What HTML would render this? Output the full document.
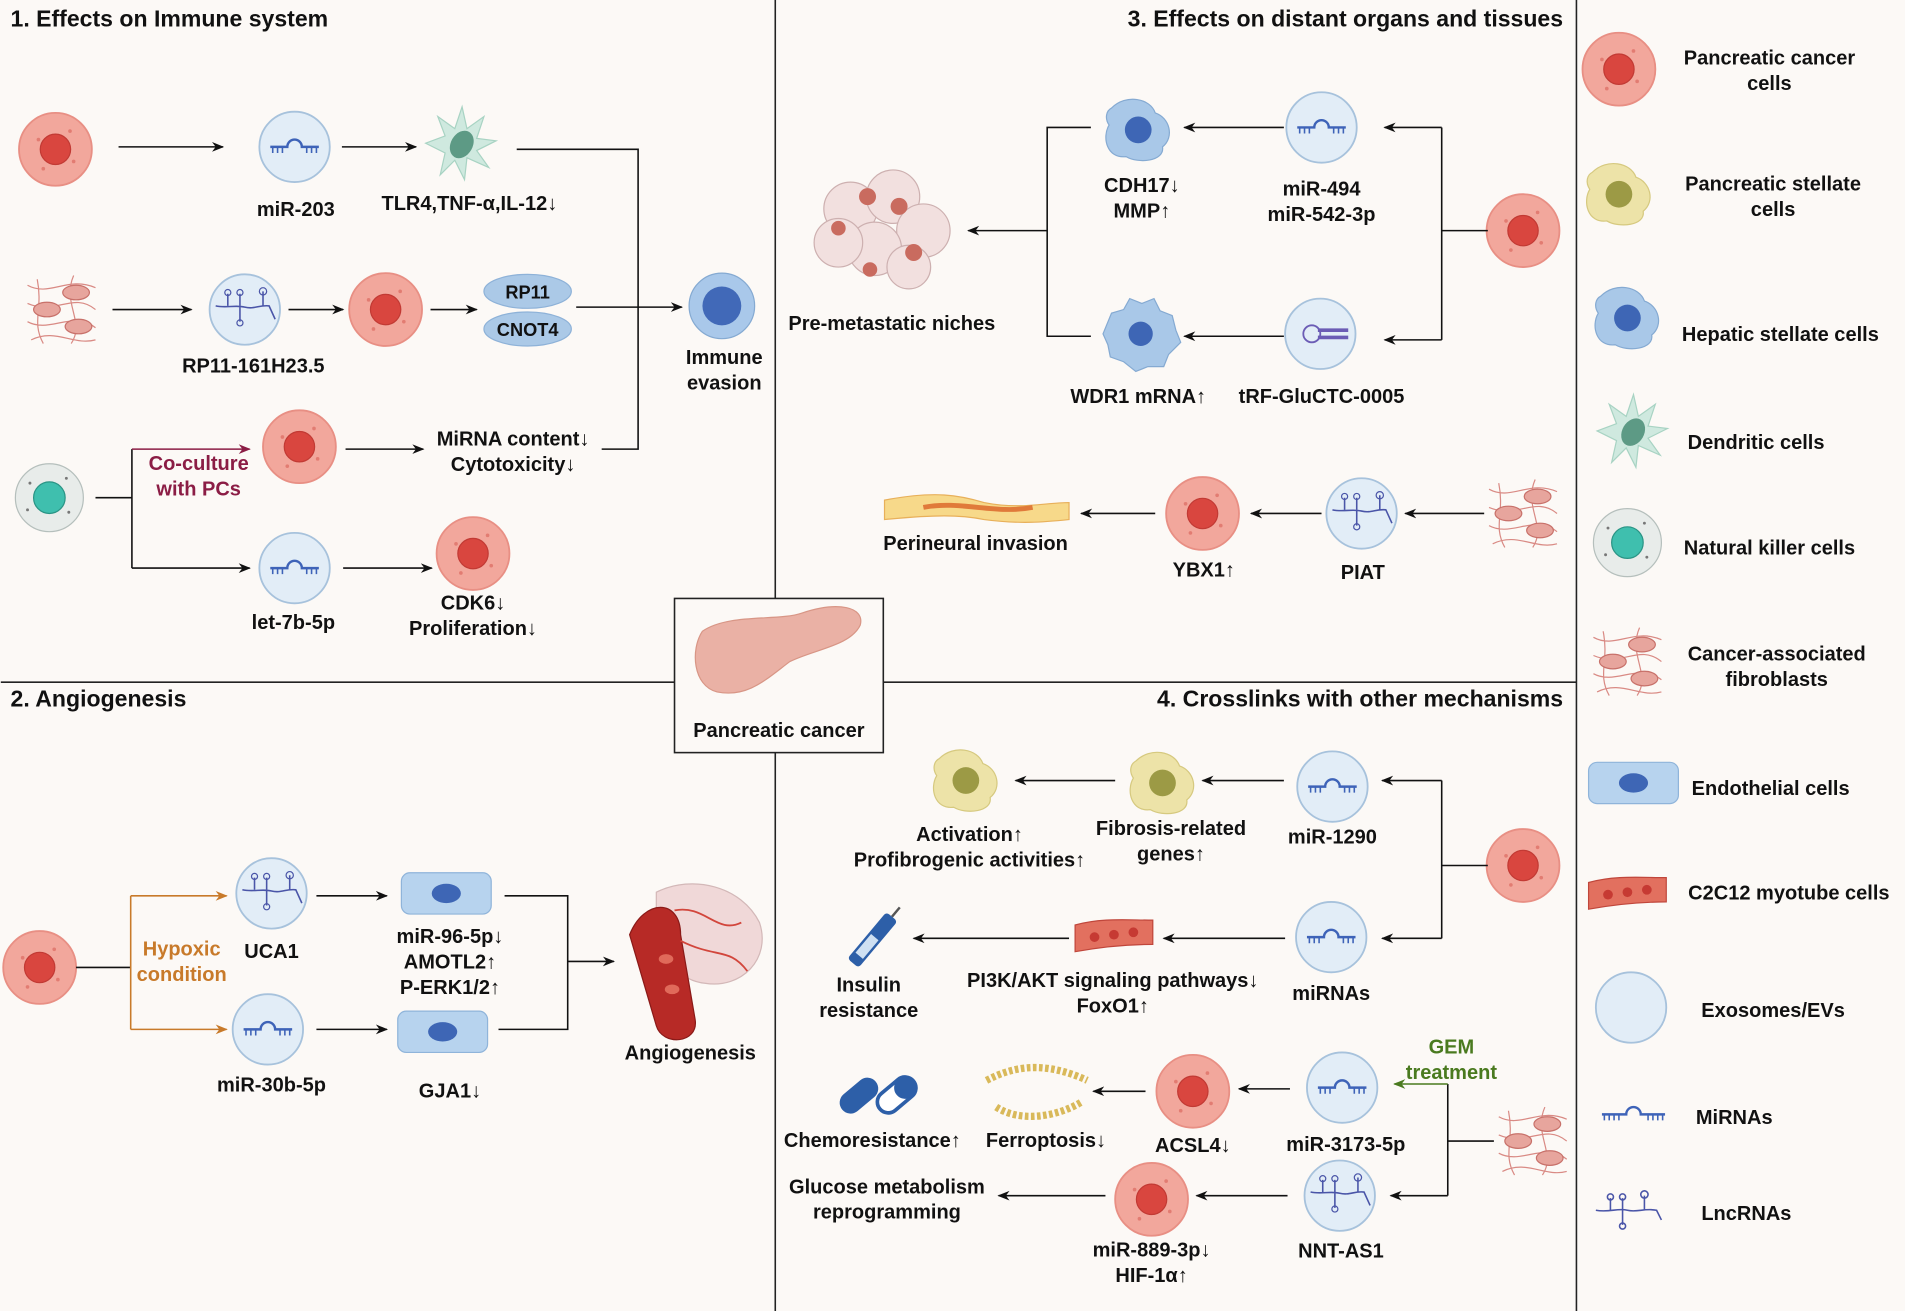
<!DOCTYPE html>
<html><head><meta charset="utf-8"><style>
html,body{margin:0;padding:0;background:#fcf9f6;}
svg{display:block}
text{font-family:"Liberation Sans",Arial,sans-serif;font-weight:bold;font-size:16.5px;fill:#111;text-anchor:middle}
.t{font-size:19px;text-anchor:start}
</style></head><body>
<svg width="1905" height="1311" viewBox="0 0 1568 1080" xmlns="http://www.w3.org/2000/svg">
<defs>
<marker id="ar" markerWidth="10" markerHeight="10" refX="9" refY="5" orient="auto" markerUnits="userSpaceOnUse"><path d="M0,1 L10,5 L0,9 L3,5z" fill="#111"/></marker>
<marker id="arp" markerWidth="10" markerHeight="10" refX="9" refY="5" orient="auto" markerUnits="userSpaceOnUse"><path d="M0,1 L10,5 L0,9 L3,5z" fill="#8b1d45"/></marker>
<marker id="aro" markerWidth="10" markerHeight="10" refX="9" refY="5" orient="auto" markerUnits="userSpaceOnUse"><path d="M0,1 L10,5 L0,9 L3,5z" fill="#c87a2a"/></marker>
<marker id="arg" markerWidth="10" markerHeight="10" refX="9" refY="5" orient="auto" markerUnits="userSpaceOnUse"><path d="M0,1 L10,5 L0,9 L3,5z" fill="#4a7a1f"/></marker>
<g id="pc"><circle r="30" fill="#f2a79c" stroke="#e88f84" stroke-width="1.5"/><circle r="12.5" fill="#d9463f" stroke="#c23a34"/><circle cx="-14" cy="-8" r="1.5" fill="#e27c72"/><circle cx="15" cy="10" r="1.5" fill="#e27c72"/><circle cx="-10" cy="16" r="1.5" fill="#e27c72"/><circle cx="12" cy="-15" r="1.5" fill="#e27c72"/></g>
<g id="exo"><circle r="29" fill="#e2edf7" stroke="#a7c2dc" stroke-width="1.5"/><path d="M-20,0 H-6 A6,6 0 0 1 6,0 H20" fill="none" stroke="#3e63b8" stroke-width="2"/><path d="M-18,0v5M-14,0v5M-10,0v5M10,0v5M14,0v5M18,0v5" stroke="#3e63b8" stroke-width="1.3"/></g>
<g id="lnc"><circle r="29" fill="#e2edf7" stroke="#a7c2dc" stroke-width="1.5"/><path d="M-24,-3 C-15,-1 -8,-4 0,-2 C8,0 12,-4 20,-3 L25,8" fill="none" stroke="#4a55a8" stroke-width="1.3"/><path d="M-14,-3v-10M-4,-3v-10M-4,-2v12M15,-3v-12" stroke="#4a55a8" stroke-width="1.3"/><circle cx="-14" cy="-14" r="2.5" fill="none" stroke="#4a55a8"/><circle cx="-4" cy="-14" r="2.5" fill="none" stroke="#4a55a8"/><circle cx="-4" cy="11" r="2.5" fill="none" stroke="#4a55a8"/><circle cx="15" cy="-15" r="3" fill="none" stroke="#4a55a8"/></g>
<g id="dc"><path d="M-28,0 L-12,-6 L-18,-22 L-4,-12 L2,-30 L6,-12 L20,-22 L14,-4 L30,-2 L14,6 L24,20 L6,12 L4,30 L-4,14 L-16,26 L-12,8z" fill="#cfe9df" stroke="#a8d3c3"/><ellipse cx="2" cy="0" rx="9" ry="12" transform="rotate(30)" fill="#5d9a85"/></g>
<g id="nk"><circle r="28" fill="#e8ecea" stroke="#b5bfbc"/><circle r="13" fill="#3fbfae" stroke="#2a9485"/><circle cx="-16" cy="-12" r="1.2" fill="#777"/><circle cx="16" cy="12" r="1.2" fill="#777"/><circle cx="-18" cy="10" r="1.2" fill="#777"/><circle cx="14" cy="-16" r="1.2" fill="#777"/></g>
<g id="caf" fill="none" stroke="#d98a84" stroke-width="1"><path d="M-28,-20 C-10,-10 5,-28 28,-18 M-28,-5 C-5,5 10,-15 28,0 M-28,10 C-10,20 10,0 28,15 M-25,25 C-5,15 10,30 28,25 M-20,-25 C-15,0 -25,10 -15,28 M10,-28 C0,-5 20,10 8,28"/><ellipse cx="-12" cy="0" rx="11" ry="6" fill="#e7a59d" stroke="#c8716a"/><ellipse cx="12" cy="-14" rx="11" ry="6" fill="#e7a59d" stroke="#c8716a"/><ellipse cx="14" cy="14" rx="11" ry="6" fill="#e7a59d" stroke="#c8716a"/></g>
<g id="hsc"><path d="M-22,-18 C-10,-30 10,-26 14,-14 C26,-10 30,6 20,14 C22,26 0,28 -10,22 C-26,24 -30,6 -24,-4 C-28,-10 -26,-16 -22,-18z" fill="#a9c8e8" stroke="#85aad2"/><circle cx="0" cy="0" r="11" fill="#3e66b5"/></g>
<g id="psc"><path d="M-22,-18 C-10,-30 10,-26 14,-14 C26,-10 30,6 20,14 C22,26 0,28 -10,22 C-26,24 -30,6 -24,-4 C-28,-10 -26,-16 -22,-18z" fill="#ede3a8" stroke="#d6c97f"/><circle cx="0" cy="0" r="11" fill="#9c9a45"/></g>
<g id="endo"><rect x="-37" y="-17" width="74" height="34" rx="7" fill="#b7d3ee" stroke="#8fb4da"/><ellipse rx="12" ry="8" fill="#3e66b5"/></g>
<g id="myo"><path d="M-32,-8 C-10,-14 10,-12 32,-12 L32,8 C10,8 -10,10 -32,14z" fill="#e2705f" stroke="#c0463b"/><circle cx="-16" cy="2" r="4" fill="#c63a33"/><circle cx="0" cy="0" r="4" fill="#c63a33"/><circle cx="16" cy="-2" r="4" fill="#c63a33"/></g>
<g id="mir"><path d="M-26,0 H-6 A6,6 0 0 1 6,0 H26" fill="none" stroke="#3e63b8" stroke-width="2"/><path d="M-24,0v5M-20,0v5M-16,0v5M-12,0v5M12,0v5M16,0v5M20,0v5M24,0v5" stroke="#3e63b8" stroke-width="1.3"/></g>
<g id="lncs" fill="none" stroke="#4a55a8" stroke-width="1.3"><path d="M-26,0 C-15,2 -8,-2 0,0 C8,2 14,-2 24,0 L28,8"/><path d="M-14,0v-10M-4,0v-10M-4,0v12M14,0v-12"/><circle cx="-14" cy="-11" r="2.5"/><circle cx="-4" cy="-11" r="2.5"/><circle cx="-4" cy="13" r="2.5"/><circle cx="14" cy="-13" r="3"/></g>
</defs>
<rect width="1568" height="1080" fill="#fcf9f6"/>
<g stroke="#222" stroke-width="1.3" fill="none">
<path d="M638,0V493M638,620V1080M0,562H555M727,562H1298M1298,0V1080"/>
<rect x="555" y="493" width="172" height="127"/>
</g>
<path d="M578,520 C600,505 640,512 660,505 C690,495 712,500 708,515 C700,532 670,535 650,545 C630,560 615,575 590,570 C570,565 568,535 578,520z" fill="#eab1a5" stroke="#d89686"/>
<text x="641" y="607">Pancreatic cancer</text>

<!-- Panel 1 -->
<text class="t" x="8" y="22">1. Effects on Immune system</text>
<use href="#pc" x="45" y="123"/>
<g stroke="#111" stroke-width="1.3" fill="none" marker-end="url(#ar)">
<path d="M97,121H183"/><path d="M281,121H342"/><path d="M92,255H157"/><path d="M237,255H282"/><path d="M354,255H392"/><path d="M474,253H561"/><path d="M284,370H348"/><path d="M108,468H205"/><path d="M282,468H355"/>
</g>
<path d="M425,123H525V370H495" stroke="#111" stroke-width="1.3" fill="none"/>
<path d="M78,410H108V468M108,410V370" stroke="#111" stroke-width="1.3" fill="none"/>
<path d="M108,370H205" stroke="#8b1d45" stroke-width="1.3" marker-end="url(#arp)"/>
<use href="#exo" x="242" y="121"/><text x="243" y="178">miR-203</text>
<use href="#dc" x="378" y="118"/><text x="386" y="173">TLR4,TNF-α,IL-12↓</text>
<use href="#caf" x="50" y="255"/>
<use href="#lnc" x="201" y="255"/><text x="208" y="307">RP11-161H23.5</text>
<use href="#pc" x="317" y="255"/>
<ellipse cx="434" cy="240" rx="36" ry="14" fill="#abc9e7" stroke="#8eb2d8"/><text x="434" y="246" style="font-size:15px">RP11</text>
<ellipse cx="434" cy="271" rx="36" ry="14" fill="#abc9e7" stroke="#8eb2d8"/><text x="434" y="277" style="font-size:15px">CNOT4</text>
<circle cx="594" cy="252" r="27" fill="#a9c8ea" stroke="#85aad2"/><circle cx="594" cy="252" r="16" fill="#4169b8"/>
<text x="596" y="300">Immune</text><text x="596" y="321">evasion</text>
<use href="#nk" x="40" y="410"/>
<text x="163" y="387" style="fill:#8b1d45">Co-culture</text><text x="163" y="408" style="fill:#8b1d45">with PCs</text>
<use href="#pc" x="246" y="368"/>
<text x="422" y="367">MiRNA content↓</text><text x="422" y="388">Cytotoxicity↓</text>
<use href="#exo" x="242" y="468"/><text x="241" y="518">let-7b-5p</text>
<use href="#pc" x="389" y="456"/><text x="389" y="502">CDK6↓</text><text x="389" y="523">Proliferation↓</text>

<!-- Panel 2 -->
<text class="t" x="8" y="582">2. Angiogenesis</text>
<use href="#pc" x="32" y="797"/>
<path d="M62,797H107" stroke="#111" stroke-width="1.3"/>
<path d="M107,738V848" stroke="#c87a2a" stroke-width="1.3" fill="none"/>
<path d="M107,738H186" stroke="#c87a2a" stroke-width="1.3" marker-end="url(#aro)"/>
<path d="M107,848H186" stroke="#c87a2a" stroke-width="1.3" marker-end="url(#aro)"/>
<text x="149" y="787" style="fill:#c87a2a">Hypoxic</text><text x="149" y="808" style="fill:#c87a2a">condition</text>
<use href="#lnc" x="223" y="736"/><text x="223" y="789">UCA1</text>
<use href="#endo" x="367" y="736"/>
<text x="370" y="777">miR-96-5p↓</text><text x="370" y="798">AMOTL2↑</text><text x="370" y="819">P-ERK1/2↑</text>
<use href="#exo" x="220" y="848"/><text x="223" y="899">miR-30b-5p</text>
<use href="#endo" x="364" y="850"/><text x="370" y="904">GJA1↓</text>
<g stroke="#111" stroke-width="1.3" fill="none" marker-end="url(#ar)">
<path d="M260,738H318"/><path d="M260,848H318"/><path d="M467,792H505"/>
</g>
<path d="M415,738H467V848H410" stroke="#111" stroke-width="1.3" fill="none"/>
<g>
<path d="M540,735 C570,720 610,730 625,760 C635,790 610,815 580,810 C560,808 545,790 540,770z" fill="#f0d8d8" stroke="#d3b8b8"/>
<path d="M518,770 C530,740 560,740 560,770 L572,840 C575,860 545,862 540,845z" fill="#b72a26" stroke="#8a1a18"/>
<ellipse cx="548" cy="790" rx="6" ry="4" fill="#e06a5a"/><ellipse cx="553" cy="815" rx="6" ry="4" fill="#e06a5a"/>
<path d="M555,750 C580,745 590,770 610,760 M560,775 C590,790 600,780 615,800" stroke="#d2463c" stroke-width="1.5" fill="none"/>
</g>
<text x="568" y="873">Angiogenesis</text>

<!-- Panel 3 -->
<text class="t" x="1287" y="22" style="text-anchor:end">3. Effects on distant organs and tissues</text>
<use href="#pc" x="1254" y="190"/>
<path d="M1225,190H1187M1187,105V280M898,105H862V277H898" stroke="#111" stroke-width="1.3" fill="none"/>
<g stroke="#111" stroke-width="1.3" fill="none" marker-end="url(#ar)">
<path d="M1187,105H1140"/><path d="M1187,280H1140"/><path d="M1057,105H975"/><path d="M1057,277H975"/><path d="M862,190H797"/><path d="M1222,423H1157"/><path d="M1088,423H1030"/><path d="M951,423H890"/>
</g>
<use href="#exo" x="1088" y="105"/><text x="1088" y="161">miR-494</text><text x="1088" y="182">miR-542-3p</text>
<use href="#hsc" x="937" y="107"/><text x="940" y="158">CDH17↓</text><text x="940" y="179">MMP↑</text>
<circle cx="1087" cy="275" r="29" fill="#e2edf7" stroke="#a7c2dc" stroke-width="1.5"/>
<path d="M1085,272 H1110 M1085,278 H1110" stroke="#6b5cb5" stroke-width="3"/><circle cx="1080" cy="275" r="7" fill="none" stroke="#6b5cb5" stroke-width="1.5"/>
<text x="1088" y="332">tRF-GluCTC-0005</text>
<path d="M908,275 L915,258 L925,255 L930,246 L940,250 L950,246 L955,256 L965,260 L968,272 L972,282 L962,292 L958,302 L945,302 L935,306 L925,298 L914,294 L912,284z" fill="#a9c8e8" stroke="#85aad2"/>
<circle cx="939" cy="275" r="10" fill="#3e66b5"/>
<text x="937" y="332">WDR1 mRNA↑</text>
<g stroke="#c9a9a9" fill="#f1dedd" opacity=".9">
<circle cx="700" cy="172" r="22"/><circle cx="735" cy="162" r="22"/><circle cx="760" cy="190" r="22"/><circle cx="720" cy="205" r="22"/><circle cx="690" cy="200" r="20"/><circle cx="748" cy="220" r="18"/>
</g>
<g fill="#c96b5f"><circle cx="714" cy="162" r="7"/><circle cx="740" cy="170" r="7"/><circle cx="752" cy="208" r="7"/><circle cx="716" cy="222" r="6"/><circle cx="690" cy="188" r="6"/></g>
<text x="734" y="272">Pre-metastatic niches</text>
<use href="#caf" x="1254" y="423"/>
<use href="#lnc" x="1121" y="423"/><text x="1122" y="477">PIAT</text>
<use href="#pc" x="990" y="423"/><text x="991" y="475">YBX1↑</text>
<path d="M728,412 C770,404 790,408 810,414 C840,420 860,414 880,414 L880,428 C860,430 840,432 810,428 C790,424 770,424 728,428z" fill="#f7d98a" stroke="#e8b05a"/>
<path d="M760,418 C790,412 820,424 850,418" stroke="#e07a3a" stroke-width="4" fill="none"/>
<text x="803" y="453">Perineural invasion</text>

<!-- Panel 4 -->
<text class="t" x="1287" y="582" style="text-anchor:end">4. Crosslinks with other mechanisms</text>
<use href="#pc" x="1254" y="713"/>
<path d="M1225,713H1187M1187,643V773M1230,940H1192M1192,893V985" stroke="#111" stroke-width="1.3" fill="none"/>
<g stroke="#111" stroke-width="1.3" fill="none" marker-end="url(#ar)">
<path d="M1187,643H1138"/><path d="M1187,773H1138"/><path d="M1057,643H990"/><path d="M918,643H836"/><path d="M1058,773H958"/><path d="M880,773H752"/><path d="M1062,897H1020"/><path d="M943,899H900"/><path d="M1192,985H1145"/><path d="M1060,985H985"/><path d="M910,985H822"/>
</g>
<path d="M1192,893H1148" stroke="#4a7a1f" stroke-width="1.3" marker-end="url(#arg)"/>
<use href="#exo" x="1097" y="648"/><text x="1097" y="695">miR-1290</text>
<use href="#psc" x="957" y="645"/><text x="964" y="688">Fibrosis-related</text><text x="964" y="709">genes↑</text>
<use href="#psc" x="795" y="643"/><text x="798" y="693">Activation↑</text><text x="798" y="714">Profibrogenic activities↑</text>
<use href="#exo" x="1096" y="772"/><text x="1096" y="824">miRNAs</text>
<use href="#myo" x="917" y="770"/><text x="916" y="813">PI3K/AKT signaling pathways↓</text><text x="916" y="834">FoxO1↑</text>
<g transform="translate(720,772) rotate(-50)"><rect x="-28" y="-6" width="50" height="12" rx="3" fill="#2d5fa8"/><rect x="-20" y="-4" width="20" height="8" fill="#cfe0f2"/><path d="M22,0 H32" stroke="#555" stroke-width="2"/></g>
<text x="715" y="817">Insulin</text><text x="715" y="838">resistance</text>
<text x="1195" y="868" style="fill:#4a7a1f">GEM</text><text x="1195" y="889" style="fill:#4a7a1f">treatment</text>
<use href="#caf" x="1262" y="940"/>
<use href="#exo" x="1105" y="896"/><text x="1108" y="948">miR-3173-5p</text>
<use href="#pc" x="982" y="899"/><text x="982" y="949">ACSL4↓</text>
<g fill="none" stroke="#d9b95a"><path d="M812,890 C835,878 860,874 895,890" stroke-width="6" stroke-dasharray="3 2"/><path d="M820,912 C840,925 870,920 890,908" stroke-width="6" stroke-dasharray="3 2"/></g>
<text x="861" y="945">Ferroptosis↓</text>
<g transform="translate(710,900) rotate(-40)"><rect x="-22" y="-9" width="36" height="18" rx="9" fill="#2d5fa8"/></g>
<g transform="translate(738,902) rotate(-40)"><rect x="-18" y="-9" width="36" height="18" rx="9" fill="#fff" stroke="#2d5fa8" stroke-width="3"/><rect x="0" y="-9" width="18" height="18" rx="9" fill="#2d5fa8"/></g>
<text x="718" y="945">Chemoresistance↑</text>
<use href="#lnc" x="1103" y="985"/><text x="1104" y="1036">NNT-AS1</text>
<use href="#pc" x="948" y="988"/><text x="948" y="1035">miR-889-3p↓</text><text x="948" y="1056">HIF-1α↑</text>
<text x="730" y="983">Glucose metabolism</text><text x="730" y="1004">reprogramming</text>

<!-- Legend -->
<use href="#pc" x="1333" y="57"/><text x="1457" y="53">Pancreatic cancer</text><text x="1457" y="74">cells</text>
<use href="#psc" x="1333" y="160"/><text x="1460" y="157">Pancreatic stellate</text><text x="1460" y="178">cells</text>
<use href="#hsc" x="1340" y="262"/><text x="1466" y="281">Hepatic stellate cells</text>
<use href="#dc" x="1343" y="355"/><text x="1446" y="370">Dendritic cells</text>
<use href="#nk" x="1340" y="447"/><text x="1457" y="457">Natural killer cells</text>
<use href="#caf" x="1340" y="545"/><text x="1463" y="544">Cancer-associated</text><text x="1463" y="565">fibroblasts</text>
<use href="#endo" x="1345" y="645"/><text x="1458" y="655">Endothelial cells</text>
<use href="#myo" x="1340" y="735"/><text x="1473" y="741">C2C12 myotube cells</text>
<circle cx="1343" cy="830" r="29" fill="#e2edf7" stroke="#a7c2dc" stroke-width="1.5"/><text x="1460" y="838">Exosomes/EVs</text>
<use href="#mir" x="1345" y="918"/><text x="1428" y="926">MiRNAs</text>
<use href="#lncs" x="1340" y="997"/><text x="1438" y="1005">LncRNAs</text>
</svg>
</body></html>
